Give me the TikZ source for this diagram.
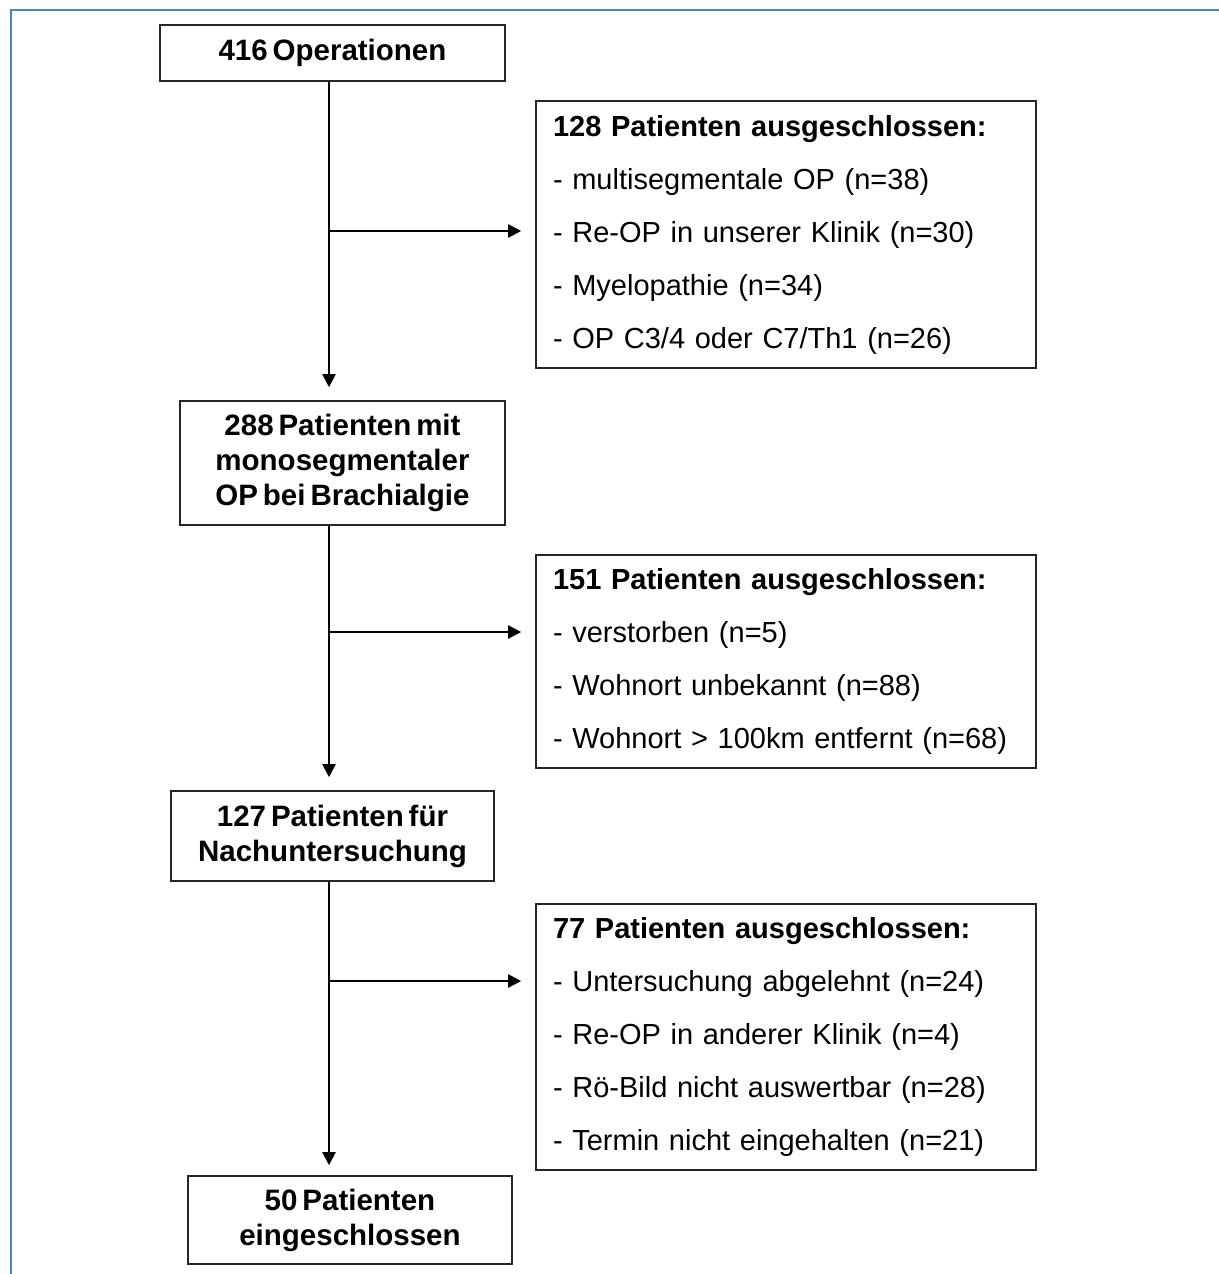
\documentclass[tikz,border=0pt]{standalone}
\usepackage{fontspec}
\setmainfont{Liberation Sans}[WordSpace=0.6]
\usetikzlibrary{arrows.meta}
\definecolor{framebl}{RGB}{79,129,189}
\begin{document}
\begin{tikzpicture}[x=1pt,y=-1pt,
  mainbox/.style={draw=black!85, line width=1.6pt, align=center, inner sep=0pt,
    font=\bfseries\fontsize{29.5}{35}\selectfont},
  exclbox/.style={draw=black!85, line width=1.6pt, minimum width=500pt, text width=466pt,
    inner xsep=17pt, inner ysep=0pt, align=left, font=\fontsize{29}{53}\selectfont},
  arr/.style={line width=2pt, -{Triangle[length=13pt,width=13pt]}, shorten >=13pt},
  branch/.style={line width=2pt, -{Triangle[length=13pt,width=13pt]}, shorten >=14pt}]
\useasboundingbox (0,0) rectangle (1218,1274);
\draw[framebl, line width=2.8pt] (11,1280) -- (11,10) -- (1225,10);

\node[mainbox, minimum width=345pt, minimum height=56pt] (b1) at (332.5,53) {416 Operationen};
\node[mainbox, minimum width=325pt, minimum height=124pt] (b2) at (342.5,463) {288 Patienten mit\\monosegmentaler\\OP bei Brachialgie};
\node[mainbox, minimum width=323pt, minimum height=90pt] (b3) at (332.5,836) {127 Patienten für\\Nachuntersuchung};
\node[mainbox, minimum width=324pt, minimum height=88pt] (b4) at (350,1220) {50 Patienten\\eingeschlossen};

\node[exclbox, minimum height=267pt] (e1) at (786,234.5) {\textbf{128 Patienten ausgeschlossen:}\\- multisegmentale OP (n=38)\\- Re-OP in unserer Klinik (n=30)\\- Myelopathie (n=34)\\- OP C3/4 oder C7/Th1 (n=26)};
\node[exclbox, minimum height=213pt] (e2) at (786,661.5) {\textbf{151 Patienten ausgeschlossen:}\\- verstorben (n=5)\\- Wohnort unbekannt (n=88)\\- Wohnort > 100km entfernt (n=68)};
\node[exclbox, minimum height=266pt] (e3) at (786,1037) {\textbf{77 Patienten ausgeschlossen:}\\- Untersuchung abgelehnt (n=24)\\- Re-OP in anderer Klinik (n=4)\\- Rö-Bild nicht auswertbar (n=28)\\- Termin nicht eingehalten (n=21)};

\coordinate (v) at (329,0);
\coordinate (h1) at (329,231);
\coordinate (h2) at (329,632);
\coordinate (h3) at (329,981);

\draw[arr] (b1.south -| v) -- (b2.north -| v);
\draw[arr] (b2.south -| v) -- (b3.north -| v);
\draw[arr, shorten >=10pt] (b3.south -| v) -- (b4.north -| v);
\draw[branch] (h1) -- (e1.west |- h1);
\draw[branch] (h2) -- (e2.west |- h2);
\draw[branch] (h3) -- (e3.west |- h3);
\end{tikzpicture}
\end{document}
